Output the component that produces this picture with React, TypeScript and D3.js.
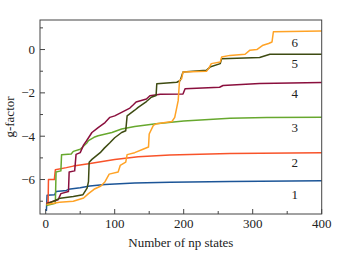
import { useEffect, useRef } from "react";
import * as d3 from "d3";

type Pt = [number, number];

// step-like traces: [number of np states, g-factor]
const series1: Pt[] = [[1,-7.45],[2,-6.72],[13,-6.7],[15,-6.55],[30,-6.5],[33,-6.45],[50,-6.38],[64,-6.3],[86,-6.23],[129,-6.16],[180,-6.13],[267,-6.09],[400,-6.05]];
const series2: Pt[] = [[1,-7.1],[3.5,-7.05],[4,-6.0],[12.5,-6.0],[14,-5.55],[30,-5.45],[40,-5.38],[62,-5.27],[100,-5.08],[134,-4.95],[180,-4.87],[267,-4.8],[400,-4.76]];
const series3: Pt[] = [[1,-7.2],[14,-7.1],[15,-5.65],[22,-5.6],[23,-4.85],[37,-4.82],[40,-4.7],[50,-4.6],[55,-4.45],[60,-4.3],[62,-4.2],[70,-4.05],[76,-3.98],[96,-3.83],[110,-3.67],[129,-3.55],[160,-3.42],[200,-3.3],[267,-3.17],[320,-3.14],[400,-3.12]];
const series4: Pt[] = [[1,-7.1],[18,-6.93],[22,-6.65],[33,-6.55],[34,-5.65],[42,-5.6],[44,-4.84],[50,-4.76],[55,-4.4],[59,-4.22],[67,-3.83],[76,-3.6],[86,-3.37],[93,-3.13],[100,-3.06],[110,-2.9],[122,-2.7],[127,-2.55],[131,-2.42],[146,-2.28],[151,-2.13],[166,-2.06],[199,-2.05],[202,-1.81],[252,-1.74],[257,-1.66],[310,-1.57],[400,-1.52]];
const series5: Pt[] = [[1,-7.15],[21,-6.86],[40,-6.78],[54,-6.7],[60,-6.4],[62,-6.1],[63,-5.2],[67,-5.07],[79,-4.76],[85,-4.55],[93,-4.3],[100,-4.07],[110,-3.83],[116,-3.75],[118,-3.06],[129,-2.8],[134,-2.67],[146,-2.4],[153,-2.2],[160,-2.12],[161,-1.58],[190,-1.51],[195,-1.43],[199,-1.04],[233,-0.96],[238,-0.81],[253,-0.65],[255,-0.42],[310,-0.37],[325,-0.22],[400,-0.22]];
const series6: Pt[] = [[1,-7.15],[20,-7.05],[40,-7.0],[55,-6.85],[62,-6.65],[70,-6.45],[80,-6.3],[86,-6.1],[92,-5.75],[105,-5.65],[108,-5.35],[116,-5.2],[118,-4.85],[129,-4.76],[141,-4.6],[149,-4.5],[150,-3.9],[156,-3.5],[161,-3.42],[183,-3.32],[187,-3.13],[190,-2.67],[192,-2.36],[194,-1.43],[197,-1.35],[199,-1.04],[233,-1.0],[236,-0.88],[240,-0.65],[253,-0.58],[255,-0.34],[267,-0.27],[289,-0.22],[296,-0.03],[306,0.0],[315,0.2],[323,0.28],[328,0.35],[330,0.82],[400,0.85]];

const allSeries = [series1, series2, series3, series4, series5, series6];
const seriesNames = ["1", "2", "3", "4", "5", "6"];
const colors = ["#1c5597", "#f8532a", "#67a82e", "#8a0f3d", "#3e4b12", "#ffa326"];
const labelY = [-6.7, -5.23, -3.6, -2.02, -0.65, 0.35];
const labelX = 361;

const xTicks = [0, 100, 200, 300, 400];
const xMinor = [50, 150, 250, 350];
const yTicks = [-6, -4, -2, 0];
const yMinor = [-7, -5, -3, -1, 1];

export default function App() {
  const ref = useRef<SVGSVGElement>(null);

  useEffect(() => {
    if (!ref.current) return;
    const svg = d3.select(ref.current);
    svg.selectAll("*").remove();

    const left = 40, right = 321.7, top = 20, bottom = 214;
    const font = "'Liberation Serif', 'DejaVu Serif', serif";

    const x = d3.scaleLinear().domain([-8.26, 400]).range([left, right]);
    const y = d3.scaleLinear().domain([-7.59, 1.363]).range([bottom, top]);

    const line = d3.line<Pt>().x(d => x(d[0])).y(d => y(d[1]));

    const plot = svg.append("g");
    allSeries.forEach((s, i) => {
      plot.append("path")
        .datum(s)
        .attr("fill", "none")
        .attr("stroke", colors[i])
        .attr("stroke-width", 1.5)
        .attr("stroke-linejoin", "round")
        .attr("d", line);
    });

    // frame
    svg.append("rect")
      .attr("x", left).attr("y", top)
      .attr("width", right - left).attr("height", bottom - top)
      .attr("fill", "none").attr("stroke", "#444").attr("stroke-width", 1);

    // inward ticks, bottom + left
    const tick = svg.append("g").attr("stroke", "#444").attr("stroke-width", 1);
    xTicks.forEach(v => tick.append("line").attr("x1", x(v)).attr("x2", x(v)).attr("y1", bottom).attr("y2", bottom - 5));
    xMinor.forEach(v => tick.append("line").attr("x1", x(v)).attr("x2", x(v)).attr("y1", bottom).attr("y2", bottom - 3));
    yTicks.forEach(v => tick.append("line").attr("x1", left).attr("x2", left + 5).attr("y1", y(v)).attr("y2", y(v)));
    yMinor.forEach(v => tick.append("line").attr("x1", left).attr("x2", left + 3).attr("y1", y(v)).attr("y2", y(v)));

    const fmt = d3.format("d");
    svg.append("g").selectAll("text").data(xTicks).enter().append("text")
      .attr("x", d => x(d)).attr("y", bottom + 14)
      .attr("text-anchor", "middle")
      .attr("font-family", font).attr("font-size", 13).attr("fill", "#222")
      .text(d => fmt(d));

    svg.append("g").selectAll("text").data(yTicks).enter().append("text")
      .attr("x", left - 5).attr("y", d => y(d)).attr("dy", "0.35em")
      .attr("text-anchor", "end")
      .attr("font-family", font).attr("font-size", 13).attr("fill", "#222")
      .text(d => fmt(d));

    // series labels
    svg.append("g").selectAll("text").data(seriesNames).enter().append("text")
      .attr("x", x(labelX)).attr("y", (_, i) => y(labelY[i])).attr("dy", "0.35em")
      .attr("text-anchor", "middle")
      .attr("font-family", font).attr("font-size", 13).attr("fill", "#222")
      .text(d => d);

    svg.append("text")
      .attr("x", (left + right) / 2).attr("y", 247)
      .attr("text-anchor", "middle")
      .attr("font-family", font).attr("font-size", 13).attr("fill", "#222")
      .text("Number of np states");

    svg.append("text")
      .attr("transform", `translate(14,${(top + bottom) / 2}) rotate(-90)`)
      .attr("text-anchor", "middle")
      .attr("font-family", font).attr("font-size", 13).attr("fill", "#222")
      .text("g-factor");
  }, []);

  return (
    <svg ref={ref} width={339} height={254}
      style={{ position: "absolute", left: 0, top: 0, background: "#fff" }} />
  );
}
